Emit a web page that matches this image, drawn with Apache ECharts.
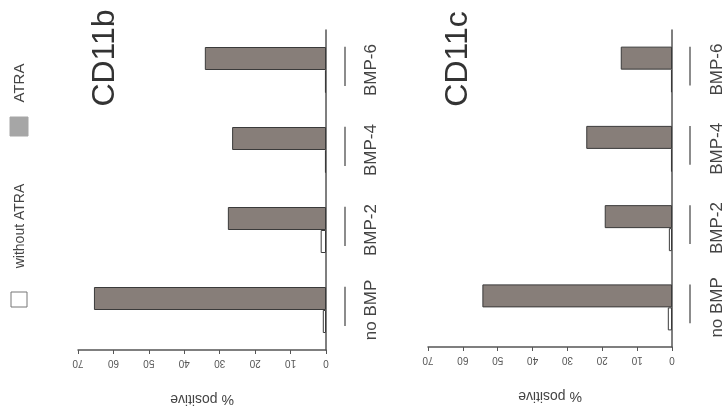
<!DOCTYPE html>
<html>
<head>
<meta charset="utf-8">
<script src="https://cdn.jsdelivr.net/npm/echarts@6/dist/echarts.min.js"></script>
<style>
html,body{margin:0;padding:0;background:#fff;}
#c{width:726px;height:419px;}
</style>
</head>
<body>
<div id="c"></div>
<script>
const categories = ['no BMP', 'BMP-2', 'BMP-4', 'BMP-6'];
const cd11bATRA = [65.5, 27.7, 26.5, 34.2];
const cd11bWithout = [0.9, 1.5, 0.3, 0.3];
const cd11cATRA = [54.4, 19.3, 24.6, 14.7];
const cd11cWithout = [1.2, 0.9, 0.3, 0.3];
const valueMin = 0, valueMax = 70, valueStep = 10;
const titles = ['CD11b', 'CD11c'];
const seriesNames = ['without ATRA', 'ATRA'];

const FONT = 'Liberation Sans, Arial, sans-serif';
const GRAY = '#877e79';
const EDGE = '#3a3a3a';

const chart = echarts.init(document.getElementById('c'), null, {renderer: 'canvas'});

function valueAxis(gi) {
  return {
    type: 'value', gridIndex: gi, min: valueMin, max: valueMax, interval: valueStep,
    inverse: true, position: 'bottom',
    axisLine: {show: true, lineStyle: {color: '#555', width: 1.5}},
    axisTick: {show: true, length: 4, lineStyle: {color: '#555'}},
    splitLine: {show: false},
    axisLabel: {rotate: 180, margin: 8, fontSize: 10, color: '#555', fontFamily: FONT},
    name: '% positive', nameLocation: 'middle', nameGap: 42, nameRotate: 180,
    nameTextStyle: {fontSize: 14, color: '#444', fontFamily: FONT}
  };
}
function catAxis(gi) {
  return {
    type: 'category', gridIndex: gi, data: categories, position: 'right',
    axisLine: {show: true, lineStyle: {color: '#555', width: 1.5}},
    axisTick: {show: false},
    axisLabel: {rotate: 90, margin: 37, fontSize: 17, color: '#444', fontFamily: FONT}
  };
}
function segSeries(gi, dx) {
  return {
    type: 'custom', xAxisIndex: gi, yAxisIndex: gi, clip: false, silent: true,
    data: categories.map((c, i) => [0, i]),
    encode: {x: 0, y: 1},
    renderItem: function (params, api) {
      const p = api.coord([0, api.value(1)]);
      const bw = api.size([0, 1])[1];
      return {
        type: 'line',
        shape: {x1: p[0] + dx, y1: p[1] - bw * 0.29, x2: p[0] + dx, y2: p[1] + bw * 0.2},
        style: {stroke: '#666', lineWidth: 1.5}
      };
    }
  };
}
function barSeries(gi, name, data, color) {
  return {
    type: 'bar', name: name, xAxisIndex: gi, yAxisIndex: gi, data: data,
    barWidth: 23, barGap: '0%',
    itemStyle: {color: color, borderColor: EDGE, borderWidth: 1}
  };
}

const option = {
  backgroundColor: '#fff',
  animation: false,
  grid: [
    {left: 78, top: 30, width: 248, height: 320},
    {left: 428, top: 30, width: 247, height: 317}
  ],
  xAxis: [valueAxis(0), valueAxis(1)],
  yAxis: [catAxis(0), catAxis(1)],
  series: [
    barSeries(0, seriesNames[1], cd11bATRA, GRAY),
    barSeries(0, seriesNames[0], cd11bWithout, '#fff'),
    barSeries(1, seriesNames[1], cd11cATRA, GRAY),
    barSeries(1, seriesNames[0], cd11cWithout, '#fff'),
    segSeries(0, 19),
    segSeries(1, 18)
  ],
  graphic: [
    {type: 'text', x: 105, y: 58, rotation: Math.PI / 2,
     style: {text: titles[0], font: '32px ' + FONT, fill: '#333', align: 'center', verticalAlign: 'middle'}},
    {type: 'text', x: 458, y: 59, rotation: Math.PI / 2,
     style: {text: titles[1], font: '32px ' + FONT, fill: '#333', align: 'center', verticalAlign: 'middle'}},
    {type: 'rect', shape: {x: 11, y: 292, width: 16, height: 15},
     style: {fill: '#fff', stroke: '#777', lineWidth: 1}},
    {type: 'text', x: 20, y: 226, rotation: Math.PI / 2,
     style: {text: seriesNames[0], font: '14px ' + FONT, fill: '#444', align: 'center', verticalAlign: 'middle'}},
    {type: 'rect', shape: {x: 10, y: 117, width: 18, height: 19},
     style: {fill: '#a6a6a6', stroke: '#a6a6a6', lineWidth: 1}},
    {type: 'text', x: 20, y: 83, rotation: Math.PI / 2,
     style: {text: seriesNames[1], font: '15px ' + FONT, fill: '#444', align: 'center', verticalAlign: 'middle'}}
  ]
};
chart.setOption(option);
</script>
</body>
</html>
